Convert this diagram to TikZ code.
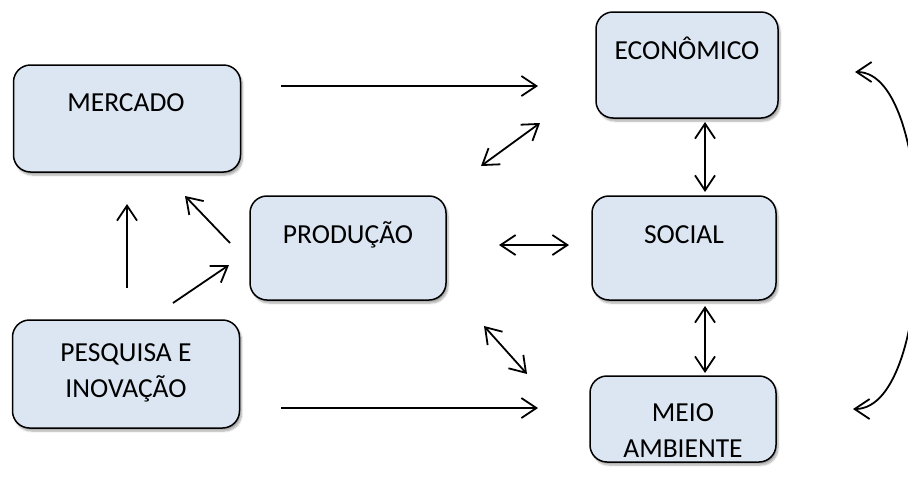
\documentclass[tikz,border=0pt]{standalone}
\usepackage{fontspec}
\setmainfont{Carlito}
\usetikzlibrary{arrows.meta,shadows.blur}
\definecolor{boxfill}{HTML}{DCE6F2}
\tikzset{
  box/.style={draw=black, line width=1.5pt, fill=boxfill, rounded corners=17pt,
    blur shadow={shadow xshift=2pt, shadow yshift=-3pt, shadow blur steps=6, shadow opacity=35}},
  lbl/.style={font=\fontsize{27.5}{36}\selectfont, inner sep=0pt, align=center},
  onel/.style={lbl, text height=17.7pt, text depth=0pt},
  mytip/.tip={Straight Barb[length=15pt,width=20pt,line width=1.8pt]},
  arr/.style={line width=1.8pt, -{mytip}},
  darr/.style={line width=1.8pt, {mytip}-{mytip}}
}
\begin{document}
\begin{tikzpicture}[x=1pt,y=-1pt]
\useasboundingbox (0,0) rectangle (908,480);
\clip (0,0) rectangle (908,480);
% boxes
\node[box, minimum width=227pt, minimum height=107pt] (merc) at (127,118.5) {};
\node[box, minimum width=182pt, minimum height=106pt] (econ) at (687,65) {};
\node[box, minimum width=196pt, minimum height=104pt] (prod) at (348,248) {};
\node[box, minimum width=184pt, minimum height=104pt] (soc) at (684,248) {};
\node[box, minimum width=227pt, minimum height=108pt] (pesq) at (126,374) {};
\node[box, minimum width=186pt, minimum height=86pt] (meio) at (683,419) {};
% labels
\node[onel] (mercT) at (126,102.5) {MERCADO};
\node[onel] (econT) at (687,51) {ECONÔMICO};
\node[onel] (prodT) at (348,235) {PRODUÇÃO};
\node[onel] (socT) at (684,235) {SOCIAL};
\node[lbl] (pesqT) at (126,373) {PESQUISA E\\INOVAÇÃO};
\node[lbl] (meioT) at (683,431) {MEIO\\AMBIENTE};
% connector end points
\coordinate (a1s) at (281,86);  \coordinate (a1e) at (538,86);
\coordinate (a2s) at (481,166); \coordinate (a2e) at (540,123);
\coordinate (a3s) at (705,122); \coordinate (a3e) at (705,192);
\coordinate (a4s) at (499,245); \coordinate (a4e) at (569,245);
\coordinate (a5s) at (705,306); \coordinate (a5e) at (705,373);
\coordinate (a6s) at (484,326); \coordinate (a6e) at (527,374);
\coordinate (a7s) at (281,408); \coordinate (a7e) at (538,408);
\coordinate (a8s) at (127,288); \coordinate (a8e) at (127,204);
\coordinate (a9s) at (230,243); \coordinate (a9e) at (185,196);
\coordinate (a10s) at (173,303); \coordinate (a10e) at (229,265);
\coordinate (r1) at (855,72); \coordinate (r2) at (853,409);
% connectors
\draw[arr] (a1s) -- (a1e);
\draw[darr] (a2s) -- (a2e);
\draw[darr] (a3s) -- (a3e);
\draw[darr] (a4s) -- (a4e);
\draw[darr] (a5s) -- (a5e);
\draw[darr] (a6s) -- (a6e);
\draw[arr] (a7s) -- (a7e);
\draw[arr] (a8s) -- (a8e);
\draw[arr] (a9s) -- (a9e);
\draw[arr] (a10s) -- (a10e);
\draw[darr] (r1) .. controls (938,72) and (938,409) .. (r2);
\end{tikzpicture}
\end{document}
